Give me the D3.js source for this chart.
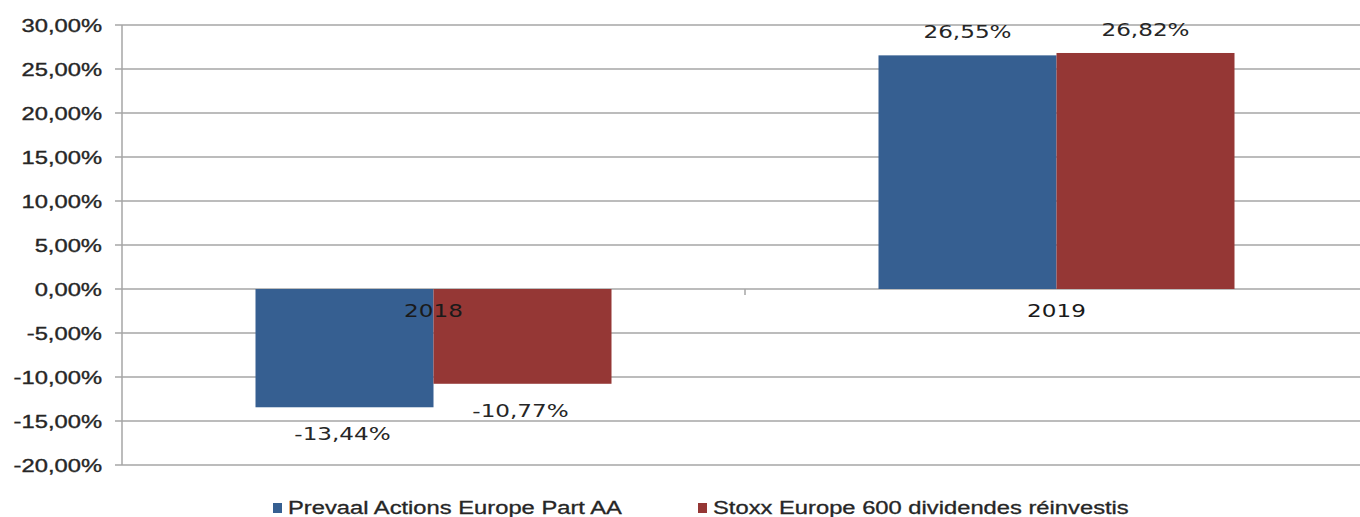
<!DOCTYPE html>
<html><head><meta charset="utf-8">
<script src="https://cdn.jsdelivr.net/npm/d3@7"></script>
<style>body{margin:0;background:#fff;} svg{display:block;}</style>
</head><body>
<svg id="c" width="1360" height="517"></svg>
<script>
const categories = ["2018", "2019"];
const seriesNames = ["Prevaal Actions Europe Part AA", "Stoxx Europe 600 dividendes réinvestis"];
const prevaal = [-13.44, 26.55];
const stoxx = [-10.77, 26.82];
const yTicks = [30, 25, 20, 15, 10, 5, 0, -5, -10, -15, -20];
const colors = ["#365F91", "#953735"];

(function () {
const svg = d3.select("#c");
const mL = 122, mR = 1368, mT = 25, mB = 465;
const SX = 1.32;
const fmt = v => v.toFixed(2).replace(".", ",") + "%";
const sans = "Liberation Sans, Arial, sans-serif";
const verd = "DejaVu Sans, Verdana, sans-serif";

const y = d3.scaleLinear().domain([-20, 30]).range([mB, mT]);
const x0 = d3.scaleBand().domain(categories).range([mL, mR]);
const x1 = d3.scaleBand().domain([0, 1]).range([0, x0.bandwidth()]).paddingOuter(0.75).paddingInner(0);

function stext(sel, fx, fy) {
  return sel.attr("transform", (d, i) => `translate(${fx(d, i)},${fy(d, i)}) scale(${SX},1)`);
}

svg.append("g").selectAll("line").data(yTicks).join("line")
  .attr("x1", mL - 7).attr("x2", 1360)
  .attr("y1", d => y(d)).attr("y2", d => y(d))
  .attr("stroke", "#a6a6a6").attr("stroke-width", 1.5);

svg.append("line").attr("x1", mL).attr("x2", mL).attr("y1", mT).attr("y2", mB)
  .attr("stroke", "#a6a6a6").attr("stroke-width", 1.5);

stext(svg.append("g").selectAll("text").data(yTicks).join("text"), () => 102, d => y(d) + 7)
  .attr("text-anchor", "end")
  .attr("font-family", sans).attr("font-size", 18)
  .attr("fill", "#262626").attr("stroke", "#262626").attr("stroke-width", 0.35)
  .text(d => fmt(d));

svg.append("g").selectAll("line").data(categories.slice(1)).join("line")
  .attr("x1", d => x0(d)).attr("x2", d => x0(d))
  .attr("y1", y(0)).attr("y2", y(0) + 6)
  .attr("stroke", "#a6a6a6").attr("stroke-width", 1.5);

const series = [prevaal, stoxx];
series.forEach((vals, si) => {
  svg.append("g").selectAll("rect").data(vals).join("rect")
    .attr("x", (d, i) => x0(categories[i]) + x1(si))
    .attr("width", x1.bandwidth())
    .attr("y", d => y(Math.max(0, d)))
    .attr("height", d => Math.abs(y(d) - y(0)))
    .attr("fill", colors[si]);
});

stext(svg.append("g").selectAll("text").data(categories).join("text"),
      d => x0(d) + x0.bandwidth() / 2, () => y(0) + 28)
  .attr("text-anchor", "middle")
  .attr("font-family", verd).attr("font-size", 17.5).attr("fill", "#1a1a1a")
  .text(d => d);

series.forEach((vals, si) => {
  stext(svg.append("g").selectAll("text").data(vals).join("text"),
        (d, i) => x0(categories[i]) + x1(si) + x1.bandwidth() / 2 - (d < 0 ? 2 : 0),
        d => d >= 0 ? y(d) - 17 : y(d) + 33)
    .attr("text-anchor", "middle")
    .attr("font-family", verd).attr("font-size", 17.5).attr("fill", "#262626")
    .text(d => fmt(d));
});

const legX = [273, 698];
seriesNames.forEach((n, i) => {
  svg.append("rect").attr("x", legX[i]).attr("y", 503).attr("width", 9).attr("height", 10).attr("fill", colors[i]);
  svg.append("text").attr("transform", `translate(${legX[i] + 15},514) scale(${SX},1)`)
    .attr("font-family", sans).attr("font-size", 18)
    .attr("fill", "#262626").attr("stroke", "#262626").attr("stroke-width", 0.3).text(n);
});
})();
</script>
</body></html>
